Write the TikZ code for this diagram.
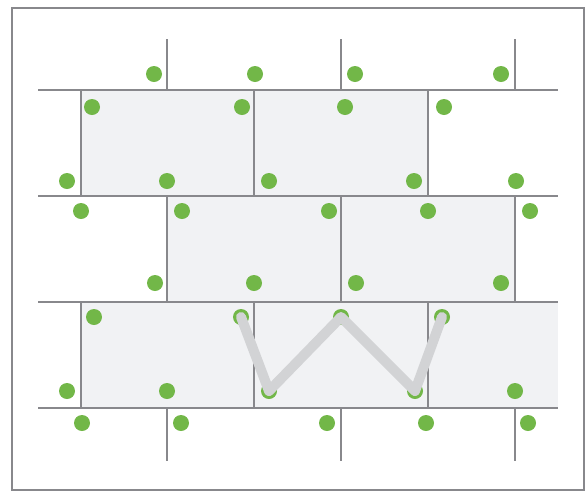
\documentclass[tikz,border=0pt]{standalone}
\usepackage{tikz}
\definecolor{wallgray}{RGB}{136,136,140}
\definecolor{brickfill}{RGB}{241,242,244}
\definecolor{dotgreen}{RGB}{114,183,72}
\definecolor{pathgray}{RGB}{210,211,213}

\begin{document}
\begin{tikzpicture}[x=1pt, y=-1pt,
    joint/.style={wallgray, line width=2pt},
    brick/.style={fill=brickfill, draw=none},
    dot/.style={circle, fill=dotgreen, inner sep=0pt, minimum size=16pt},
    walk/.style={pathgray, line width=10pt, line cap=round, line join=round}]
  \useasboundingbox (0,0) rectangle (586,491);
  % shaded bricks
  \fill[brick] (81,90) rectangle (428,196);
  \fill[brick] (168,196) rectangle (515,302);
  \fill[brick] (81,302) rectangle (558,408);
  % frame
  \draw[joint] (12,8) rectangle (584,490);
  % courses
  \foreach \y in {90,196,302,408}
    \draw[joint] (38,\y) -- (558,\y);
  % head joints
  \foreach \x in {167,341,515} {
    \draw[joint] (\x,39) -- (\x,90);
    \draw[joint] (\x,196) -- (\x,302);
    \draw[joint] (\x,408) -- (\x,461);
  }
  \foreach \x in {81,254,428} {
    \draw[joint] (\x,90) -- (\x,196);
    \draw[joint] (\x,302) -- (\x,408);
  }
  % dots
  \foreach \x in {154,255,355,501}
    \node[dot] at (\x,74) {};
  \foreach \x in {92,242,345,444}
    \node[dot] at (\x,107) {};
  \foreach \x in {67,167,269,414,516}
    \node[dot] at (\x,181) {};
  \foreach \x in {81,182,329,428,530}
    \node[dot] at (\x,211) {};
  \foreach \x in {155,254,356,501}
    \node[dot] at (\x,283) {};
  \node[dot] at (94,317) {};
  \node[dot] (w1) at (241,317) {};
  \node[dot] (w3) at (341,317) {};
  \node[dot] (w5) at (442,317) {};
  \node[dot] at (67,391) {};
  \node[dot] at (167,391) {};
  \node[dot] (w2) at (269,391) {};
  \node[dot] (w4) at (415,391) {};
  \node[dot] at (515,391) {};
  \foreach \x in {82,181,327,426,528}
    \node[dot] at (\x,423) {};
  % route
  \draw[walk] (w1.center) -- (w2.center) -- (w3.center) -- (w4.center) -- (w5.center);
\end{tikzpicture}
\end{document}
